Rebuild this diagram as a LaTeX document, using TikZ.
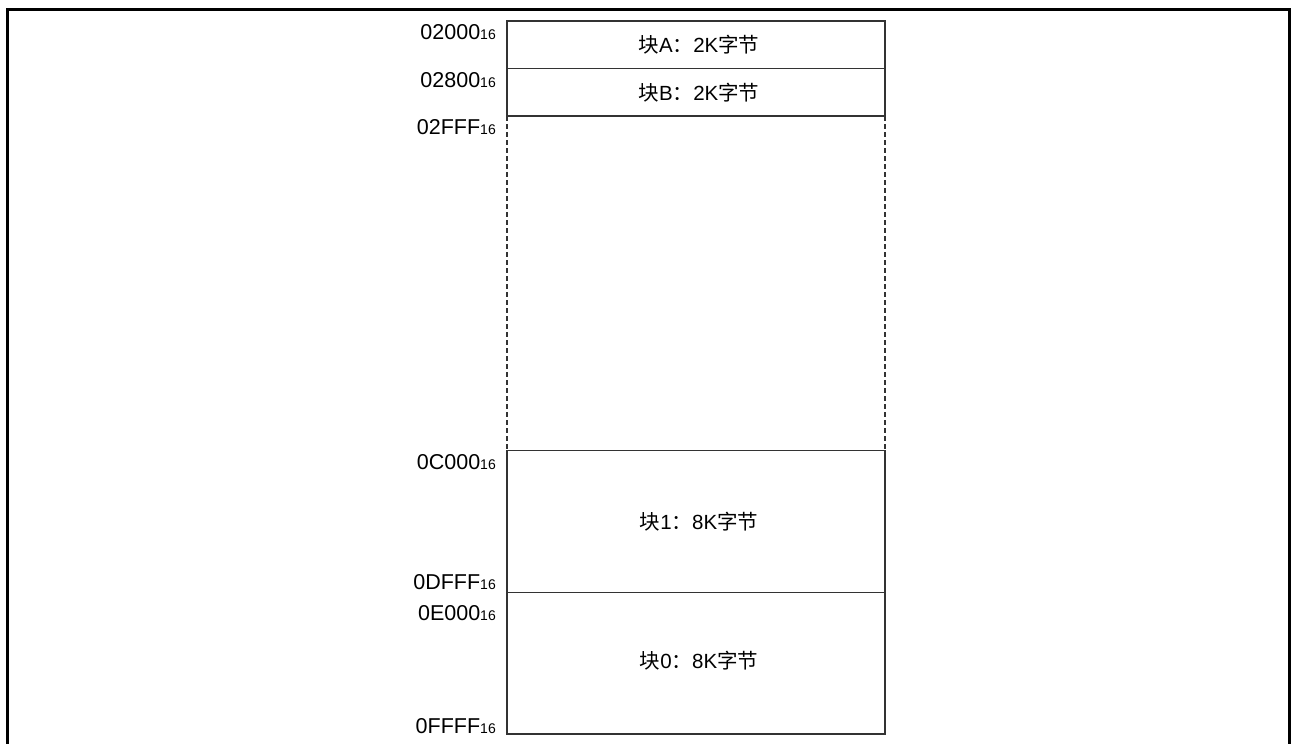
\documentclass[tikz,border=0pt]{standalone}
\usepackage{fontspec}
\setmainfont{Liberation Sans}
\newfontfamily\cjk{Noto Sans CJK SC}
\begin{document}
\begin{tikzpicture}[x=1pt,y=-1pt,
  frame/.style={line width=3pt,black},
  boxline/.style={line width=1.3pt,draw=black!80},
  dashline/.style={line width=1.3pt,draw=black!80,dash pattern=on 4.5pt off 3.5pt},
  addr/.style={anchor=east,inner sep=0pt,font=\fontsize{21.5}{24}\selectfont},
  blk/.style={inner sep=0pt,font=\fontsize{20.5}{24}\selectfont}]
\useasboundingbox (0,0) rectangle (1291,744);
% outer frame (open at bottom)
\draw[frame] (7,744) -- (7,9.5) -- (1289.5,9.5) -- (1289.5,744);
% coordinates
\coordinate (tl) at (507,21);
\coordinate (tr) at (885,21);
\coordinate (abl) at (507,68.5);
\coordinate (abr) at (885,68.5);
\coordinate (bl) at (507,116);
\coordinate (br) at (885,116);
\coordinate (cl) at (507,450.5);
\coordinate (cr) at (885,450.5);
\coordinate (dl) at (507,592.5);
\coordinate (dr) at (885,592.5);
\coordinate (el) at (507,734);
\coordinate (er) at (885,734);
% solid parts
\draw[boxline] (bl) -- (tl) -- (tr) -- (br) -- cycle;
\draw[boxline] (abl) -- (abr);
\draw[boxline] (cl) -- (cr) -- (er) -- (el) -- cycle;
\draw[boxline] (dl) -- (dr);
% dashed sides
\draw[dashline] (bl) -- (cl);
\draw[dashline] (br) -- (cr);
% block labels
\node[blk] (ba) at (699,45) {{\cjk 块}A{\cjk ：}2K{\cjk 字节}};
\node[blk] (bb) at (699,92.5) {{\cjk 块}B{\cjk ：}2K{\cjk 字节}};
\node[blk] (b1) at (699,522) {{\cjk 块}1{\cjk ：}8K{\cjk 字节}};
\node[blk] (b0) at (699,660.5) {{\cjk 块}0{\cjk ：}8K{\cjk 字节}};
% address labels
\newcommand{\sixteen}{{\fontsize{14}{16}\selectfont 16}}
\node[addr] (a1) at (496,32.5) {02000\sixteen};
\node[addr] (a2) at (496,80) {02800\sixteen};
\node[addr] (a3) at (496,127) {02FFF\sixteen};
\node[addr] (a4) at (496,462) {0C000\sixteen};
\node[addr] (a5) at (496,582) {0DFFF\sixteen};
\node[addr] (a6) at (496,613) {0E000\sixteen};
\node[addr] (a7) at (496,726) {0FFFF\sixteen};
\end{tikzpicture}
\end{document}
